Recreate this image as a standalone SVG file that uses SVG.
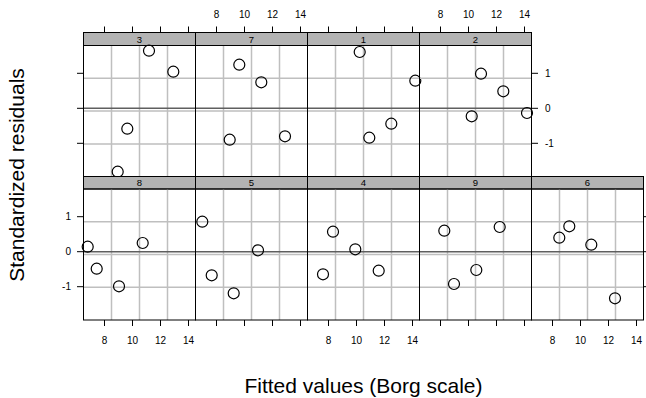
<svg xmlns="http://www.w3.org/2000/svg" width="646" height="398" viewBox="0 0 646 398">
<style>
.grid{stroke:#bfbfbf;stroke-width:1.5;fill:none}
.zero{stroke:#5f5f5f;stroke-width:1.5;fill:none}
.frame{fill:none;stroke:#000;stroke-width:1}
.strip{fill:#b3b3b3;stroke:#000;stroke-width:1}
.tick{stroke:#000;stroke-width:1;fill:none}
.pt{fill:none;stroke:#000;stroke-width:1.2}
text{font-family:"Liberation Sans",Arial,Helvetica,sans-serif;fill:#000}
.lab{font-size:10px}
.mid{text-anchor:middle}
.end{text-anchor:end}
.slab{font-size:9.5px;text-anchor:middle}
.title{font-size:21px;text-anchor:middle}
</style>
<rect width="646" height="398" fill="#fff"/>

<!-- top row -->
<g id="panel-3">
<rect class="strip" x="83.5" y="32.5" width="112" height="13"/>
<text class="slab" x="139.5" y="42.5">3</text>
<path class="grid" d="M111.5 45.5V176.5M139.5 45.5V176.5M167.5 45.5V176.5M83.5 78.3H195.5M83.5 111H195.5M83.5 144H195.5"/>
<path class="zero" d="M83.5 108.3H195.5"/>
<rect class="frame" x="83.5" y="45.5" width="112" height="131"/>
<circle class="pt" cx="149" cy="50.7" r="5.5"/>
<circle class="pt" cx="173.3" cy="71.7" r="5.5"/>
<circle class="pt" cx="127.3" cy="128.7" r="5.5"/>
<circle class="pt" cx="117.7" cy="171.7" r="5.5"/>
</g>
<g id="panel-7">
<rect class="strip" x="195.5" y="32.5" width="112" height="13"/>
<text class="slab" x="251.5" y="42.5">7</text>
<path class="grid" d="M223.5 45.5V176.5M251.5 45.5V176.5M279.5 45.5V176.5M195.5 78.3H307.5M195.5 111H307.5M195.5 144H307.5"/>
<path class="zero" d="M195.5 108.3H307.5"/>
<rect class="frame" x="195.5" y="45.5" width="112" height="131"/>
<circle class="pt" cx="239.3" cy="64.7" r="5.5"/>
<circle class="pt" cx="261.3" cy="82.3" r="5.5"/>
<circle class="pt" cx="229.7" cy="139.7" r="5.5"/>
<circle class="pt" cx="285" cy="136.3" r="5.5"/>
</g>
<g id="panel-1">
<rect class="strip" x="307.5" y="32.5" width="112" height="13"/>
<text class="slab" x="363.5" y="42.5">1</text>
<path class="grid" d="M335.5 45.5V176.5M363.5 45.5V176.5M391.5 45.5V176.5M307.5 78.3H419.5M307.5 111H419.5M307.5 144H419.5"/>
<path class="zero" d="M307.5 108.3H419.5"/>
<rect class="frame" x="307.5" y="45.5" width="112" height="131"/>
<circle class="pt" cx="359.7" cy="52" r="5.5"/>
<circle class="pt" cx="415.3" cy="80.7" r="5.5"/>
<circle class="pt" cx="391.3" cy="123.7" r="5.5"/>
<circle class="pt" cx="369.3" cy="137.7" r="5.5"/>
</g>
<g id="panel-2">
<rect class="strip" x="419.5" y="32.5" width="112" height="13"/>
<text class="slab" x="475.5" y="42.5">2</text>
<path class="grid" d="M447.5 45.5V176.5M475.5 45.5V176.5M503.5 45.5V176.5M419.5 78.3H531.5M419.5 111H531.5M419.5 144H531.5"/>
<path class="zero" d="M419.5 108.3H531.5"/>
<rect class="frame" x="419.5" y="45.5" width="112" height="131"/>
<circle class="pt" cx="481" cy="73.7" r="5.5"/>
<circle class="pt" cx="503.3" cy="91.3" r="5.5"/>
<circle class="pt" cx="471.7" cy="116.3" r="5.5"/>
<circle class="pt" cx="527" cy="113" r="5.5"/>
</g>

<!-- bottom row -->
<g id="panel-8">
<rect class="strip" x="83.5" y="176.5" width="112" height="12.5"/>
<text class="slab" x="139.5" y="186.3">8</text>
<path class="grid" d="M111.5 189V320M139.5 189V320M167.5 189V320M83.5 221.7H195.5M83.5 254.5H195.5M83.5 287.3H195.5"/>
<path class="zero" d="M83.5 251.7H195.5"/>
<rect class="frame" x="83.5" y="189" width="112" height="131"/>
<circle class="pt" cx="87.7" cy="246.7" r="5.5"/>
<circle class="pt" cx="142.7" cy="243" r="5.5"/>
<circle class="pt" cx="96.7" cy="268.7" r="5.5"/>
<circle class="pt" cx="119" cy="286.3" r="5.5"/>
</g>
<g id="panel-5">
<rect class="strip" x="195.5" y="176.5" width="112" height="12.5"/>
<text class="slab" x="251.5" y="186.3">5</text>
<path class="grid" d="M223.5 189V320M251.5 189V320M279.5 189V320M195.5 221.7H307.5M195.5 254.5H307.5M195.5 287.3H307.5"/>
<path class="zero" d="M195.5 251.7H307.5"/>
<rect class="frame" x="195.5" y="189" width="112" height="131"/>
<circle class="pt" cx="202.3" cy="221.7" r="5.5"/>
<circle class="pt" cx="258" cy="250.3" r="5.5"/>
<circle class="pt" cx="211.7" cy="275.3" r="5.5"/>
<circle class="pt" cx="233.7" cy="293.3" r="5.5"/>
</g>
<g id="panel-4">
<rect class="strip" x="307.5" y="176.5" width="112" height="12.5"/>
<text class="slab" x="363.5" y="186.3">4</text>
<path class="grid" d="M335.5 189V320M363.5 189V320M391.5 189V320M307.5 221.7H419.5M307.5 254.5H419.5M307.5 287.3H419.5"/>
<path class="zero" d="M307.5 251.7H419.5"/>
<rect class="frame" x="307.5" y="189" width="112" height="131"/>
<circle class="pt" cx="333" cy="231.7" r="5.5"/>
<circle class="pt" cx="355.3" cy="249.3" r="5.5"/>
<circle class="pt" cx="323" cy="274.3" r="5.5"/>
<circle class="pt" cx="378.7" cy="270.7" r="5.5"/>
</g>
<g id="panel-9">
<rect class="strip" x="419.5" y="176.5" width="112" height="12.5"/>
<text class="slab" x="475.5" y="186.3">9</text>
<path class="grid" d="M447.5 189V320M475.5 189V320M503.5 189V320M419.5 221.7H531.5M419.5 254.5H531.5M419.5 287.3H531.5"/>
<path class="zero" d="M419.5 251.7H531.5"/>
<rect class="frame" x="419.5" y="189" width="112" height="131"/>
<circle class="pt" cx="444.3" cy="230.7" r="5.5"/>
<circle class="pt" cx="499.7" cy="227" r="5.5"/>
<circle class="pt" cx="476.3" cy="270" r="5.5"/>
<circle class="pt" cx="454" cy="284" r="5.5"/>
</g>
<g id="panel-6">
<rect class="strip" x="531.5" y="176.5" width="112" height="12.5"/>
<text class="slab" x="587.5" y="186.3">6</text>
<path class="grid" d="M559.5 189V320M587.5 189V320M615.5 189V320M531.5 221.7H643.5M531.5 254.5H643.5M531.5 287.3H643.5"/>
<path class="zero" d="M531.5 251.7H643.5"/>
<rect class="frame" x="531.5" y="189" width="112" height="131"/>
<circle class="pt" cx="559.3" cy="237.7" r="5.5"/>
<circle class="pt" cx="569.3" cy="226.3" r="5.5"/>
<circle class="pt" cx="591.3" cy="244.7" r="5.5"/>
<circle class="pt" cx="615" cy="298.3" r="5.5"/>
</g>

<!-- axes -->
<g id="axes">
<path class="tick" d="M104.5 26.5V32.5M132.5 26.5V32.5M160.5 26.5V32.5M188.5 26.5V32.5M216.5 26.5V32.5M244.5 26.5V32.5M272.5 26.5V32.5M300.5 26.5V32.5M328.5 26.5V32.5M356.5 26.5V32.5M384.5 26.5V32.5M412.5 26.5V32.5M440.5 26.5V32.5M468.5 26.5V32.5M496.5 26.5V32.5M524.5 26.5V32.5"/>
<path class="tick" d="M104.5 320V326M132.5 320V326M160.5 320V326M188.5 320V326M216.5 320V326M244.5 320V326M272.5 320V326M300.5 320V326M328.5 320V326M356.5 320V326M384.5 320V326M412.5 320V326M440.5 320V326M468.5 320V326M496.5 320V326M524.5 320V326M552.5 320V326M580.5 320V326M608.5 320V326M636.5 320V326"/>
<path class="tick" d="M77 73.3H83.5M77 108.3H83.5M77 143.3H83.5M77 216.7H83.5M77 251.7H83.5M77 286.7H83.5M531.5 73.3H538M531.5 108.3H538M531.5 143.3H538M643.5 216.7H650M643.5 251.7H650M643.5 286.7H650"/>
<g class="lab mid">
<text x="216.5" y="18">8</text><text x="244.5" y="18">10</text><text x="272.5" y="18">12</text><text x="300.5" y="18">14</text>
<text x="440.5" y="18">8</text><text x="468.5" y="18">10</text><text x="496.5" y="18">12</text><text x="524.5" y="18">14</text>
<text x="104.5" y="343.5">8</text><text x="132.5" y="343.5">10</text><text x="160.5" y="343.5">12</text><text x="188.5" y="343.5">14</text>
<text x="328.5" y="343.5">8</text><text x="356.5" y="343.5">10</text><text x="384.5" y="343.5">12</text><text x="412.5" y="343.5">14</text>
<text x="552.5" y="343.5">8</text><text x="580.5" y="343.5">10</text><text x="608.5" y="343.5">12</text><text x="636.5" y="343.5">14</text>
</g>
<g class="lab end">
<text x="71" y="220.3">1</text><text x="71" y="255.3">0</text><text x="71" y="290.3">-1</text>
</g>
<g class="lab">
<text x="545" y="76.9">1</text><text x="545" y="111.9">0</text><text x="545" y="146.9">-1</text>
</g>
<text class="title" x="363.5" y="392.5">Fitted values (Borg scale)</text>
<text class="title" transform="translate(23.5 175) rotate(-90)">Standardized residuals</text>
</g>
</svg>
